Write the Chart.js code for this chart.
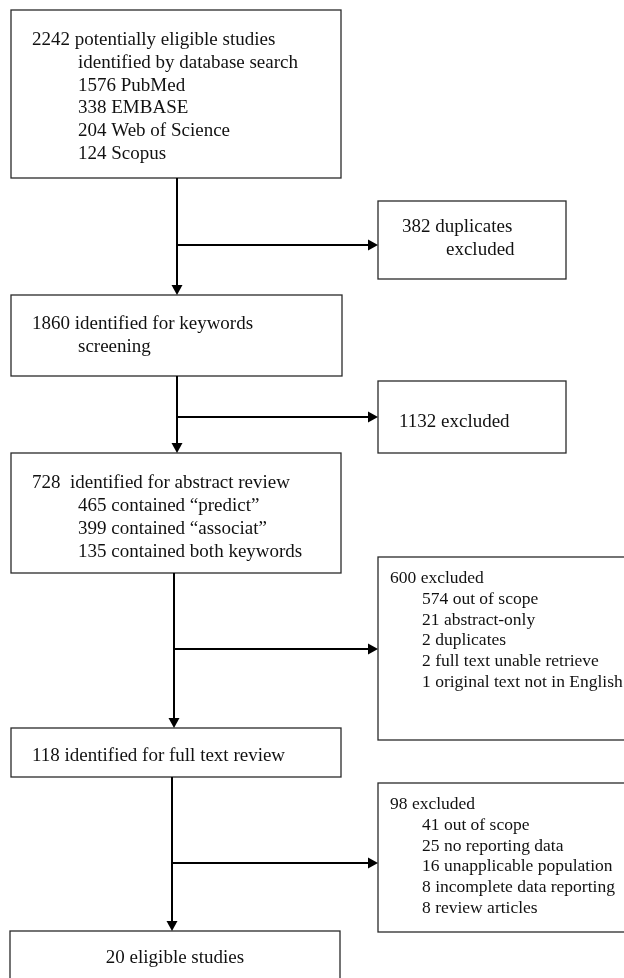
<!DOCTYPE html>
<html lang="en">
<head>
<meta charset="UTF-8">
<title>Study selection flow</title>
<script src="https://cdn.jsdelivr.net/npm/chart.js"></script>
<style>
  html, body { margin: 0; padding: 0; background: #fff; }
  #wrap { width: 624px; height: 978px; }
</style>
</head>
<body>
<div id="wrap"><canvas id="flow"></canvas></div>
<script>
// numbers of records at each step
const stageCounts = [2242, 1860, 728, 118, 20];
const excludedCounts = [382, 1132, 600, 98];

const sourceNames = ['PubMed', 'EMBASE', 'Web of Science', 'Scopus'];
const sourceCounts = [1576, 338, 204, 124];

const keywordNames = ['contained \u201cpredict\u201d', 'contained \u201cassociat\u201d', 'contained both keywords'];
const keywordCounts = [465, 399, 135];

const abstractReasons = ['out of scope', 'abstract-only', 'duplicates', 'full text unable retrieve', 'original text not in English'];
const abstractReasonCounts = [574, 21, 2, 2, 1];

const fullTextReasons = ['out of scope', 'no reporting data', 'unapplicable population', 'incomplete data reporting', 'review articles'];
const fullTextReasonCounts = [41, 25, 16, 8, 8];

// text of each box: [text, indented?]
const sub = (counts, names) => counts.map((c, i) => [c + ' ' + names[i], true]);
const boxText = [
  [[stageCounts[0] + ' potentially eligible studies', false], ['identified by database search', true], ...sub(sourceCounts, sourceNames)],
  [[excludedCounts[0] + ' duplicates', false], ['excluded', true]],
  [[stageCounts[1] + ' identified for keywords', false], ['screening', true]],
  [[excludedCounts[1] + ' excluded', false]],
  [[stageCounts[2] + '  identified for abstract review', false], ...sub(keywordCounts, keywordNames)],
  [[excludedCounts[2] + ' excluded', false], ...sub(abstractReasonCounts, abstractReasons)],
  [[stageCounts[3] + ' identified for full text review', false]],
  [[stageCounts[4] + ' eligible studies', false]],
  [[excludedCounts[3] + ' excluded', false], ...sub(fullTextReasonCounts, fullTextReasons)]
];

// layout only (page units on the x/y scales)
const boxLayout = [
  { r: [11, 10, 341, 178],  tx: 32,  ix: 78,  y0: 45,  lh: 22.8, fs: 19 },
  { r: [378, 201, 566, 279], tx: 402, ix: 446, y0: 232, lh: 23,   fs: 19 },
  { r: [11, 295, 342, 376], tx: 32,  ix: 78,  y0: 329, lh: 23,   fs: 19 },
  { r: [378, 381, 566, 453], tx: 399, ix: 399, y0: 427, lh: 23,   fs: 19 },
  { r: [11, 453, 341, 573], tx: 32,  ix: 78,  y0: 488, lh: 23,   fs: 19 },
  { r: [378, 557, 640, 740], tx: 390, ix: 422, y0: 583, lh: 20.8, fs: 17.5 },
  { r: [11, 728, 341, 777], tx: 32,  ix: 32,  y0: 761, lh: 23,   fs: 19 },
  { r: [10, 931, 340, 995], tx: 175, ix: 175, y0: 963, lh: 23,   fs: 19, center: true },
  { r: [378, 783, 640, 932], tx: 390, ix: 422, y0: 809, lh: 20.8, fs: 17.5 }
];

// down arrow x, from y, to y, branch y, branch end x
const arrowLayout = [
  { x: 177, y1: 178, y2: 295, by: 245, bx: 378 },
  { x: 177, y1: 376, y2: 453, by: 417, bx: 378 },
  { x: 174, y1: 573, y2: 728, by: 649, bx: 378 },
  { x: 172, y1: 777, y2: 931, by: 863, bx: 378 }
];

const flowPlugin = {
  id: 'flow',
  afterDraw(chart) {
    const { ctx, scales: { x, y } } = chart;
    const px = v => x.getPixelForValue(v);
    const py = v => y.getPixelForValue(v);
    ctx.save();

    // boxes
    boxLayout.forEach((b, i) => {
      const [x0, y0, x1, y1] = b.r;
      ctx.strokeStyle = '#2a2a2a';
      ctx.lineWidth = 1.3;
      ctx.strokeRect(px(x0), py(y0), px(x1) - px(x0), py(y1) - py(y0));
      ctx.fillStyle = '#111';
      ctx.font = b.fs + 'px "Liberation Serif", "Times New Roman", serif';
      ctx.textBaseline = 'alphabetic';
      ctx.textAlign = b.center ? 'center' : 'left';
      boxText[i].forEach((ln, k) => {
        ctx.fillText(ln[0], px(ln[1] ? b.ix : b.tx), py(b.y0 + k * b.lh));
      });
    });

    // arrows
    ctx.strokeStyle = '#000';
    ctx.fillStyle = '#000';
    ctx.lineWidth = 2;
    const head = (tx, ty, dir) => {
      ctx.beginPath();
      if (dir === 'down') {
        ctx.moveTo(px(tx), py(ty));
        ctx.lineTo(px(tx) - 5.5, py(ty) - 10);
        ctx.lineTo(px(tx) + 5.5, py(ty) - 10);
      } else {
        ctx.moveTo(px(tx), py(ty));
        ctx.lineTo(px(tx) - 10, py(ty) - 5.5);
        ctx.lineTo(px(tx) - 10, py(ty) + 5.5);
      }
      ctx.closePath();
      ctx.fill();
    };
    arrowLayout.forEach(a => {
      ctx.beginPath();
      ctx.moveTo(px(a.x), py(a.y1));
      ctx.lineTo(px(a.x), py(a.y2) - 9);
      ctx.moveTo(px(a.x), py(a.by));
      ctx.lineTo(px(a.bx) - 9, py(a.by));
      ctx.stroke();
      head(a.x, a.y2, 'down');
      head(a.bx, a.by, 'right');
    });
    ctx.restore();
  }
};

new Chart(document.getElementById('flow'), {
  type: 'scatter',
  data: { datasets: [{ data: [] }] },
  options: {
    responsive: true,
    maintainAspectRatio: false,
    animation: false,
    layout: { padding: 0 },
    plugins: { legend: { display: false }, tooltip: { enabled: false } },
    scales: {
      x: { type: 'linear', min: 0, max: 624, display: false },
      y: { type: 'linear', min: 0, max: 978, reverse: true, display: false }
    }
  },
  plugins: [flowPlugin]
});
</script>
</body>
</html>
